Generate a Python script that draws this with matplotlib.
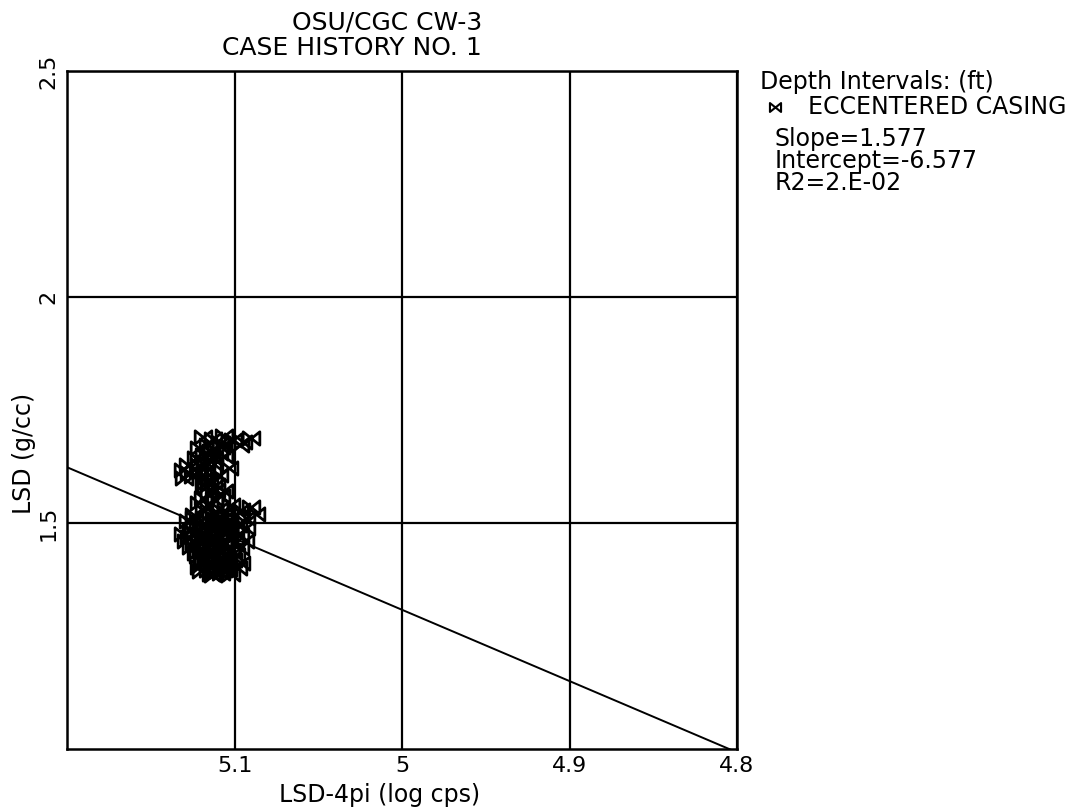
import numpy as np
import matplotlib
matplotlib.use("Agg")
from matplotlib import pyplot as plt
from matplotlib.path import Path

# log readings over the eccentered-casing interval
lsd_4pi = [5.119, 5.113, 5.106, 5.101, 5.095, 5.090, 5.097, 5.108, 5.116, 5.121,
           5.114, 5.109, 5.118, 5.123, 5.112, 5.106, 5.117, 5.121,
           5.128, 5.131, 5.127, 5.130, 5.125, 5.122,
           5.118, 5.113, 5.117, 5.111, 5.115, 5.108, 5.112, 5.119, 5.106,
           5.121, 5.115, 5.109, 5.102, 5.096, 5.090, 5.087, 5.093, 5.099, 5.105,
           5.112, 5.118, 5.124,
           5.128, 5.122, 5.116, 5.110, 5.104, 5.098, 5.093, 5.100, 5.107, 5.113,
           5.119, 5.126, 5.131, 5.127, 5.121, 5.115, 5.109, 5.103, 5.097, 5.094,
           5.100, 5.106, 5.112, 5.118, 5.124, 5.129, 5.126, 5.120, 5.114, 5.108,
           5.102, 5.097,
           5.099, 5.105, 5.111, 5.117, 5.122, 5.119, 5.113, 5.107, 5.101, 5.096,
           5.098, 5.104, 5.110, 5.116, 5.121, 5.114, 5.108, 5.102,
           5.124, 5.118, 5.111, 5.105, 5.120, 5.115, 5.109, 5.103, 5.125, 5.116,
           5.110, 5.104, 5.121, 5.113, 5.107, 5.117, 5.111, 5.123, 5.106, 5.114,
           5.119, 5.108, 5.112, 5.116, 5.110, 5.104, 5.120, 5.113, 5.107, 5.118,
           5.111, 5.115, 5.109, 5.117, 5.103, 5.121, 5.114, 5.108, 5.112, 5.116]
lsd = [1.690, 1.685, 1.692, 1.683, 1.680, 1.689, 1.672, 1.676, 1.672, 1.665,
       1.660, 1.655, 1.650, 1.644, 1.642, 1.648, 1.636, 1.628,
       1.628, 1.618, 1.610, 1.600, 1.604, 1.615,
       1.598, 1.590, 1.580, 1.574, 1.566, 1.560, 1.552, 1.556, 1.570,
       1.545, 1.538, 1.532, 1.540, 1.528, 1.535, 1.520, 1.512, 1.518, 1.524,
       1.520, 1.526, 1.518,
       1.505, 1.500, 1.505, 1.498, 1.503, 1.496, 1.490, 1.484, 1.488, 1.482,
       1.488, 1.484, 1.476, 1.468, 1.472, 1.466, 1.472, 1.468, 1.474, 1.460,
       1.455, 1.452, 1.456, 1.450, 1.455, 1.460, 1.446, 1.438, 1.442, 1.436,
       1.440, 1.445,
       1.430, 1.424, 1.428, 1.422, 1.428, 1.414, 1.410, 1.414, 1.418, 1.412,
       1.400, 1.398, 1.402, 1.396, 1.402, 1.388, 1.390, 1.388,
       1.510, 1.512, 1.508, 1.514, 1.494, 1.492, 1.495, 1.490, 1.478, 1.480,
       1.476, 1.479, 1.462, 1.464, 1.461, 1.448, 1.450, 1.434, 1.432, 1.430,
       1.418, 1.420, 1.406, 1.408, 1.394, 1.404, 1.394, 1.386, 1.396, 1.586,
       1.584, 1.596, 1.606, 1.612, 1.622, 1.640, 1.658, 1.668, 1.630, 1.652]

slope = 1.577
intercept = -6.577
r2_text = "2.E-02"

x_ticks = [5.1, 5.0, 4.9, 4.8]
x_tick_labels = ["5.1", "5", "4.9", "4.8"]
y_ticks = [1.5, 2.0, 2.5]
y_tick_labels = ["1.5", "2", "2.5"]

W, H = 1087, 809

# bowtie marker
bowtie = Path([(-1, -0.8), (1, 0.8), (1, -0.8), (-1, 0.8), (-1, -0.8)],
              [Path.MOVETO, Path.LINETO, Path.LINETO, Path.LINETO, Path.CLOSEPOLY])

plt.rcParams['font.family'] = ['DejaVu Sans']

fig = plt.figure(figsize=(W / 100, H / 100), dpi=100)
ax = fig.add_axes([67 / W, 1 - 749 / H, (737 - 67) / W, (749 - 71) / H])

ax.set_xlim(5.2, 4.8)
ax.set_ylim(1.0, 2.5)

ax.set_xticks(x_ticks)
ax.set_xticklabels(x_tick_labels, fontsize=16)
ax.set_yticks(y_ticks)
ax.set_yticklabels(y_tick_labels, fontsize=16)
for t in ax.get_yticklabels():
    t.set_rotation(90)
    t.set_va('center')
ax.tick_params(axis='x', length=0, pad=5)
ax.tick_params(axis='y', length=0, pad=6)
ax.grid(True, color='black', linewidth=1.6)
ax.set_axisbelow(True)
for sp in ax.spines.values():
    sp.set_linewidth(1.8)

# regression line over the whole x range
xs = np.array([5.2, 4.8])
ax.plot(xs, slope * xs + intercept, color='black', linewidth=1.4, zorder=3)

ax.plot(lsd_4pi, lsd, linestyle='none', marker=bowtie, markersize=12,
        markerfacecolor='none', markeredgecolor='black', markeredgewidth=2.0,
        zorder=4)

# titles and axis labels
fig.text(482 / W, 1 - 22 / H, "OSU/CGC CW-3", ha='right', va='center', fontsize=18)
fig.text(482 / W, 1 - 48 / H, "CASE HISTORY NO. 1", ha='right', va='center', fontsize=18)
fig.text(380 / W, 1 - 795 / H, "LSD-4pi (log cps)", ha='center', va='center', fontsize=17)
fig.text(24 / W, 1 - 453 / H, "LSD (g/cc)", ha='center', va='center',
         rotation=90, fontsize=17)

# legend block
fig.text(760 / W, 1 - 82 / H, "Depth Intervals: (ft)", ha='left', va='center', fontsize=17)
fig.lines.append(plt.Line2D([775 / W], [1 - 107 / H], transform=fig.transFigure,
                            linestyle='none', marker=bowtie, markersize=8,
                            markerfacecolor='none', markeredgecolor='black',
                            markeredgewidth=1.5))
fig.text(808 / W, 1 - 107 / H, "ECCENTERED CASING", ha='left', va='center', fontsize=17)
fig.text(775 / W, 1 - 139 / H, "Slope=%.3f" % slope, ha='left', va='center', fontsize=17)
fig.text(775 / W, 1 - 161 / H, "Intercept=%.3f" % intercept, ha='left', va='center', fontsize=17)
fig.text(775 / W, 1 - 183 / H, "R2=" + r2_text, ha='left', va='center', fontsize=17)

fig.savefig("out.png", dpi=100)
